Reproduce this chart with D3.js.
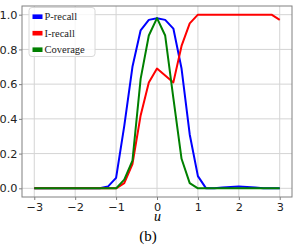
<!DOCTYPE html>
<html>
<head>
<meta charset="utf-8">
<script src="https://cdn.jsdelivr.net/npm/d3@7"></script>
<style>
  body { margin: 0; background: #fff; }
  .tick text { font-family: "DejaVu Sans", sans-serif; font-size: 11.3px; fill: #222; }
  .legend-text { font-family: "Liberation Serif", "Times New Roman", serif; font-size: 10.5px; fill: #222; }
</style>
</head>
<body>
<div id="container"></div>
<script>
const w = 295;
const h = 248;

// data
const uValues = [-3.0, -2.8, -2.6, -2.4, -2.2, -2.0, -1.8, -1.6, -1.4, -1.2, -1.0,
                 -0.8, -0.6, -0.4, -0.2, 0.0, 0.2, 0.4, 0.6, 0.8, 1.0,
                 1.2, 1.4, 1.6, 1.8, 2.0, 2.2, 2.4, 2.6, 2.8, 3.0];
const pRecall = [0, 0, 0, 0, 0, 0, 0, 0, 0, 0.01, 0.06,
                 0.36, 0.70, 0.91, 0.97, 0.98, 0.97, 0.92, 0.69, 0.31, 0.07,
                 0, 0, 0.005, 0.008, 0.01, 0.008, 0.005, 0, 0, 0];
const iRecall = [0, 0, 0, 0, 0, 0, 0, 0, 0, 0, 0,
                 0.03, 0.14, 0.42, 0.61, 0.69, 0.65, 0.61, 0.82, 0.95, 1.0,
                 1.0, 1.0, 1.0, 1.0, 1.0, 1.0, 1.0, 1.0, 1.0, 0.97];
const coverage = [0, 0, 0, 0, 0, 0, 0, 0, 0, 0, 0,
                  0.05, 0.16, 0.63, 0.88, 0.98, 0.88, 0.52, 0.17, 0.03, 0,
                  0, 0, 0, 0, 0, 0, 0, 0, 0, 0];
const xTicks = [-3, -2, -1, 0, 1, 2, 3];
const yTicks = [0.0, 0.2, 0.4, 0.6, 0.8, 1.0];

const series = [
  { name: 'P-recall', values: pRecall, color: '#0000ff' },
  { name: 'I-recall', values: iRecall, color: '#ff0000' },
  { name: 'Coverage', values: coverage, color: '#008000' }
];

const svg = d3.select('#container')
              .append('svg')
              .attr('width', w)
              .attr('height', h);

const xScale = d3.scaleLinear().domain([-3.3, 3.3]).range([22, 292]);
const yScale = d3.scaleLinear().domain([-0.05, 1.05]).range([197, 6]);

// grid
svg.append('g')
   .selectAll('line')
   .data(xTicks)
   .enter()
   .append('line')
   .attr('x1', d => xScale(d)).attr('x2', d => xScale(d))
   .attr('y1', 6).attr('y2', 197)
   .attr('stroke', '#d4d4d4').attr('stroke-width', 1);

svg.append('g')
   .selectAll('line')
   .data(yTicks)
   .enter()
   .append('line')
   .attr('x1', 22).attr('x2', 292)
   .attr('y1', d => yScale(d)).attr('y2', d => yScale(d))
   .attr('stroke', '#d4d4d4').attr('stroke-width', 1);

// lines
const line = d3.line()
               .x((d, i) => xScale(uValues[i]))
               .y(d => yScale(d));

svg.append('g')
   .selectAll('path')
   .data(series)
   .enter()
   .append('path')
   .attr('d', d => line(d.values))
   .attr('fill', 'none')
   .attr('stroke', d => d.color)
   .attr('stroke-width', 2)
   .attr('stroke-linejoin', 'round');

// axes
const xAxis = d3.axisBottom(xScale).tickValues(xTicks).tickSize(3).tickPadding(2.5).tickFormat(d3.format('d'));
const yAxis = d3.axisLeft(yScale).tickValues(yTicks).tickSize(3).tickPadding(1.5).tickFormat(d3.format('.1f'));

const gx = svg.append('g')
   .attr('transform', 'translate(0, 197)')
   .call(xAxis);
const gy = svg.append('g')
   .attr('transform', 'translate(22, 0)')
   .call(yAxis);
[gx, gy].forEach(g => {
  g.select('.domain').remove();
  g.selectAll('.tick line').attr('stroke', '#808080');
});

// frame
svg.append('rect')
   .attr('x', 22).attr('y', 6)
   .attr('width', 270).attr('height', 191)
   .attr('fill', 'none')
   .attr('stroke', '#808080')
   .attr('stroke-width', 1);

// legend
const legend = svg.append('g');
legend.append('rect')
      .attr('x', 29).attr('y', 7.5)
      .attr('width', 66).attr('height', 49)
      .attr('rx', 3)
      .attr('fill', 'rgba(255,255,255,0.8)')
      .attr('stroke', '#d8d8d8');

const items = legend.selectAll('.legend-label')
                    .data(series)
                    .enter()
                    .append('g')
                    .attr('transform', (d, i) => `translate(0, ${16.7 + i * 16.5})`);
items.append('rect')
     .attr('x', 32.5).attr('y', -2.3)
     .attr('width', 10).attr('height', 4.6)
     .attr('fill', d => d.color);
items.append('text')
     .attr('class', 'legend-text')
     .attr('x', 44.5)
     .attr('y', 3.5)
     .text(d => d.name);

// axis label and caption
svg.append('text')
   .attr('x', 157.5).attr('y', 221)
   .attr('text-anchor', 'middle')
   .style('font-family', '"Liberation Serif", serif')
   .style('font-style', 'italic')
   .style('font-size', '14px')
   .text('u');

svg.append('text')
   .attr('x', 148).attr('y', 240.5)
   .attr('text-anchor', 'middle')
   .style('font-family', '"Liberation Serif", serif')
   .style('font-size', '15px')
   .text('(b)');
</script>
</body>
</html>
